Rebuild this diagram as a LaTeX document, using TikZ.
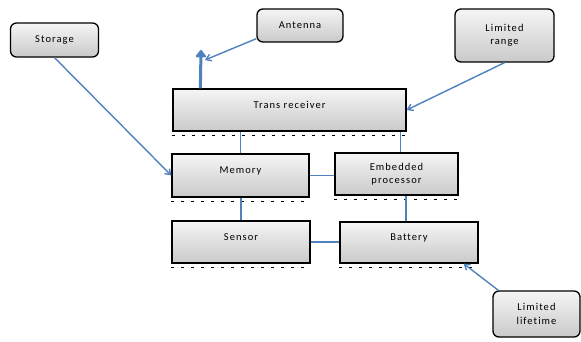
\documentclass[tikz,border=0pt]{standalone}
\usepackage{fontspec}
\setmainfont{Carlito}[LetterSpace=10,Ligatures=NoCommon]
\usetikzlibrary{arrows.meta}
\definecolor{linkblue}{RGB}{79,129,189}

\begin{document}
\begin{tikzpicture}[x=1pt,y=-1pt,
  font=\fontsize{10.5}{13.5}\selectfont,
  box/.style={draw=black,line width=1.3pt,top color=gray!8,bottom color=gray!42,
    align=center,inner sep=2pt},
  part/.style={box,rectangle},
  raised/.style={text depth=10pt},
  note/.style={box,rounded corners=6pt},
  link/.style={draw=linkblue,line width=1.1pt},
  feed/.style={link,line width=1.4pt,-{Straight Barb[length=5pt,width=7pt]}}]
  \useasboundingbox (0,0) rectangle (581,341);

  \node[note,minimum width=88pt,minimum height=34pt] (storage) at (54.5,40) {Storage};
  \node[note,minimum width=86pt,minimum height=33pt] (antenna) at (300,25.5) {Antenna};
  \node[note,minimum width=99pt,minimum height=53pt] (range) at (504.5,35.5) {Limited\\range};
  \node[part,raised,minimum width=233pt,minimum height=42pt] (trans) at (289.5,110) {Trans receiver};
  \node[part,raised,minimum width=137pt,minimum height=43pt] (memory) at (240.5,175.5) {Memory};
  \node[part,minimum width=123pt,minimum height=42pt] (embedded) at (396.5,174) {Embedded\\processor};
  \node[part,raised,minimum width=138pt,minimum height=42pt] (sensor) at (241,242) {Sensor};
  \node[part,raised,minimum width=138pt,minimum height=41pt] (battery) at (409,242.5) {Battery};
  \node[note,minimum width=87pt,minimum height=46pt] (lifetime) at (536.5,314) {Limited\\lifetime};

  \foreach \n in {trans,memory,embedded,sensor,battery}
    \draw[dashed,line width=1pt,dash pattern=on 3pt off 7pt]
      ([yshift=-4pt]\n.south west) -- ([yshift=-4pt]\n.south east);

  \coordinate (tip) at (201,50);
  \coordinate (aim) at (205,60);

  \draw[link] (memory.north) -- (memory.north |- trans.south);
  \draw[link] ([xshift=4pt]embedded.north) -- ([xshift=4pt]embedded.north |- trans.south);
  \draw[link] (memory.east) -- (memory.east -| embedded.west);
  \draw[link] (sensor.north) -- (sensor.north |- memory.south);
  \draw[link,line width=1.4pt] (sensor.east) -- (sensor.east -| battery.west);
  \draw[link,line width=2.6pt] ([xshift=-3pt]battery.north) -- ([xshift=-3pt]battery.north |- embedded.south);
  \draw[link,line width=3pt,-{Triangle[round,length=8pt,width=12pt]}]
    ([xshift=28pt]trans.north west) -- (tip);

  \draw[feed] ([yshift=4pt]antenna.south west) -- (aim);
  \draw[feed] (storage.south) -- (memory.west);
  \draw[feed] (range.south) -- (trans.east);
  \draw[feed] ([xshift=6pt]lifetime.north west) -- ([xshift=-15pt]battery.south east);

\end{tikzpicture}
\end{document}
